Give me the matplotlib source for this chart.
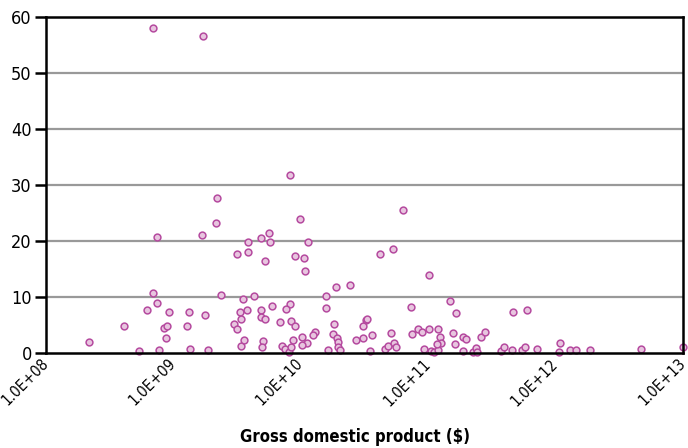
import matplotlib
matplotlib.use("Agg")
import matplotlib.pyplot as plt
from matplotlib.ticker import FixedLocator, NullLocator

plt.rcParams['font.family'] = ['DejaVu Sans']
plt.rcParams['font.stretch'] = 'condensed'

# Gross domestic product ($) per country
gdp = [
    2.2e8, 4.1e8, 5.4e8, 6.24e8, 6.99e8, 7.43e8, 7.48e8, 7.71e8, 8.48e8, 8.8e8,
    9.0e8, 9.34e8, 1.28e9, 1.32e9, 1.36e9, 1.69e9, 1.77e9, 1.89e9, 2.16e9, 2.22e9,
    2.39e9, 3.16e9, 3.01e9, 3.18e9, 3.33e9, 3.41e9, 3.40e9, 6.99e8, 1.72e9, 4.87e9,
    5.69e9, 3.89e9, 5.79e9, 3.87e9, 5.26e9, 3.54e9, 4.32e9, 5.97e9, 3.82e9, 4.92e9,
    4.90e9, 5.29e9, 6.90e9, 3.62e9, 5.11e9, 5.01e9, 8.27e9, 9.86e9, 1.15e10, 9.1e9,
    1.06e10, 1.09e10, 6.30e10, 5.26e10, 4.21e10, 1.01e11, 2.46e10, 1.88e10, 1.59e10, 8.27e9,
    7.69e9, 1.59e10, 8.42e9, 8.97e9, 1.84e10, 3.25e10, 3.34e10, 3.08e10, 7.41e10, 1.48e11,
    1.67e11, 1.03e10, 1.29e10, 1.25e10, 1.80e10, 1.92e10, 1.96e10, 2.71e10, 3.10e10, 3.66e10,
    5.08e10, 7.50e10, 8.28e10, 9.04e10, 1.02e11, 1.20e11, 1.23e11, 1.27e11, 1.56e11, 1.64e11,
    1.87e11, 2.0e11, 2.59e11, 2.82e11, 7.10e9, 7.49e9, 8.12e9, 8.38e9, 8.70e9, 1.12e10,
    1.02e10, 1.64e10, 1.98e10, 2.04e10, 3.53e10, 4.62e10, 4.89e10, 5.37e10, 5.58e10, 9.35e10,
    1.05e11, 1.11e11, 1.19e11, 1.17e11, 1.89e11, 2.24e11, 2.39e11, 2.40e11, 3.70e11, 3.91e11,
    4.63e11, 6.0e11, 4.57e11, 5.50e11, 5.78e11, 7.10e11, 1.08e12, 1.06e12, 1.30e12, 1.44e12,
    1.88e12, 4.71e12, 9.93e12,
]

# Value plotted on the vertical axis for each country
value = [
    1.9, 4.8, 0.3, 7.7, 10.8, 20.7, 8.9, 0.6, 4.4, 2.6,
    4.9, 7.4, 4.9, 7.3, 0.8, 21.1, 6.7, 0.6, 23.2, 27.7,
    10.4, 17.6, 5.1, 4.2, 7.4, 6.1, 1.2, 58.0, 56.6, 20.6,
    21.5, 19.9, 19.9, 18.0, 16.4, 9.7, 10.2, 8.4, 7.6, 7.6,
    6.4, 6.0, 5.5, 2.3, 2.1, 1.1, 31.8, 23.9, 19.9, 17.4,
    16.9, 14.7, 25.6, 18.5, 17.6, 13.9, 12.1, 11.7, 10.1, 8.8,
    7.8, 8.0, 5.8, 4.9, 5.2, 5.9, 6.1, 4.8, 8.2, 9.2,
    7.2, 2.9, 3.7, 3.2, 3.4, 2.6, 1.9, 2.4, 2.6, 3.3,
    3.5, 3.4, 4.2, 3.7, 4.3, 4.2, 2.8, 1.8, 3.5, 1.6,
    2.9, 2.5, 2.8, 3.7, 1.2, 0.7, 0.2, 1.1, 2.3, 1.8,
    1.5, 0.5, 1.1, 0.5, 0.3, 0.8, 1.2, 1.7, 1.0, 0.7,
    0.3, 0.15, 0.6, 1.6, 0.4, 0.1, 0.95, 0.2, 0.3, 1.1,
    7.3, 7.6, 0.5, 0.5, 1.1, 0.7, 1.7, 0.2, 0.5, 0.45,
    0.55, 0.65, 1.0,
]

x_ticks = [1e8, 1e9, 1e10, 1e11, 1e12, 1e13]
x_tick_labels = ["1.0E+08", "1.0E+09", "1.0E+10", "1.0E+11", "1.0E+12", "1.0E+13"]
y_ticks = [0, 10, 20, 30, 40, 50, 60]

fig = plt.figure(figsize=(6.88, 4.48), dpi=100)
ax = fig.add_axes([45.7 / 688, 1 - 353 / 448, (683 - 45.7) / 688, (353 - 17) / 448])

ax.set_xscale('log')
ax.set_xlim(1e8, 1e13)
ax.set_ylim(0, 60)

ax.scatter(gdp, value, s=24, facecolor='#e8c5df', edgecolor='#b54a9f',
           linewidths=1.1, zorder=3, clip_on=False)

# Horizontal grid
for yv in y_ticks[1:-1]:
    ax.axhline(yv, color='#999999', lw=1.6, zorder=1)

for side in ['left', 'right', 'top', 'bottom']:
    ax.spines[side].set_linewidth(1.8)
    ax.spines[side].set_color('black')
    ax.spines[side].set_zorder(4)

ax.yaxis.set_major_locator(FixedLocator(y_ticks))
ax.tick_params(axis='y', direction='out', length=8, width=1.8, pad=2,
               labelsize=13, colors='black')

ax.xaxis.set_major_locator(FixedLocator(x_ticks))
ax.xaxis.set_minor_locator(NullLocator())
ax.set_xticklabels(x_tick_labels)
ax.tick_params(axis='x', length=0, pad=6, labelsize=11)
for lbl in ax.get_xticklabels():
    lbl.set_rotation(45)
    lbl.set_ha('right')
    lbl.set_va('center')
    lbl.set_rotation_mode('anchor')

fig.text(355 / 688, 1 - 437 / 448, "Gross domestic product ($)", ha='center', va='center',
         fontsize=12, fontweight='bold')

fig.savefig("out.png", dpi=100)
